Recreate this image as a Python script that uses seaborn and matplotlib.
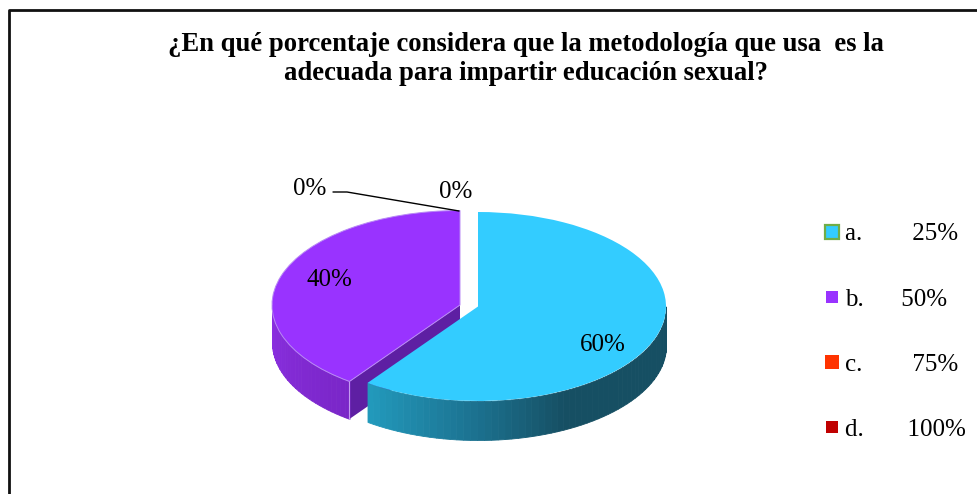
import numpy as np
import seaborn as sns
import matplotlib
matplotlib.use('Agg')
import matplotlib.pyplot as plt
from matplotlib.lines import Line2D

categorias = ['a.        25%', 'b.      50%', 'c.        75%', 'd.       100%']
valores = [60, 40, 0, 0]
etiquetas = ['60%', '40%', '0%', '0%']
colores = ['#33CCFF', '#9933FF', '#FF3300', '#C00000']
titulo = '¿En qué porcentaje considera que la metodología que usa  es la\nadecuada para impartir educación sexual?'

sns.set_theme(style='white')
plt.rcParams['font.family'] = ['Liberation Serif', 'DejaVu Serif']

W, H = 978, 494
RX, RY = 188, 94.5        # radios de la elipse en pixeles
CX, CY = 469, 306.5       # centro del pastel
PROF_AZUL = 39 / RY       # profundidad de la pared lateral
PROF_MORADO = 37.5 / RY
SEP = 9 / RX              # separacion horizontal de cada porcion
SUBE = 1.5 / RY           # la porcion morada queda un poco mas arriba

fig = plt.figure(figsize=(W / 100, H / 100), dpi=100, facecolor='white')

# Capa de fondo en pixeles: marco
bg = fig.add_axes([0, 0, 1, 1])
bg.set_xlim(0, W)
bg.set_ylim(H, 0)
bg.axis('off')
bg.plot([8.5, 8.5, W + 5], [H + 5, 10.5, 10.5], color='#111111', lw=2)

# Ejes del pastel: una unidad = RX pixeles en x y RY pixeles en y
xmin, xmax, ymin, ymax = -1.5, 1.5, -1.9, 1.2
ax = fig.add_axes([(CX + xmin * RX) / W, (H - CY + ymin * RY) / H,
                   (xmax - xmin) * RX / W, (ymax - ymin) * RY / H])

# Angulos acumulados en sentido horario desde arriba
fin = np.cumsum(valores) / np.sum(valores) * 360
ini = np.r_[0, fin[:-1]]


def pared(x0, y0, prof, a0, a1, paleta, z):
    # pared exterior de una porcion, por tiras de color
    cortes = np.linspace(a0, a1, len(paleta) + 1)
    for i, c in enumerate(paleta):
        t = np.radians(np.linspace(cortes[i], cortes[i + 1], 5))
        xs = x0 + np.sin(t)
        ys = y0 + np.cos(t)
        ax.fill_between(xs, ys, ys - prof, color=c, lw=0.6, zorder=z)


# Porcion morada: pared del corte y pared exterior
a = np.radians(ini[1])
px, py = -SEP + np.sin(a), SUBE + np.cos(a)
ax.fill([-SEP, px, px, -SEP], [SUBE, py, py - PROF_MORADO, SUBE - PROF_MORADO],
        color='#5E1FA3', lw=0, zorder=1)
pared(-SEP, SUBE, PROF_MORADO, ini[1], 270, sns.blend_palette(['#7A26C8', '#8A2FE0'], 30), 1)
ax.plot([px, px], [py, py - PROF_MORADO], color='#C49BF0', lw=0.8, zorder=1.5)

wedges, _ = ax.pie(valores[:2], colors=colores[:2], startangle=90, counterclock=False,
                   wedgeprops={'linewidth': 0}, normalize=True)
wedges[0].set_center((SEP, 0))
wedges[1].set_center((-SEP, SUBE))
wedges[1].set_edgecolor('#B98AF5')
wedges[1].set_linewidth(0.7)
wedges[1].set_zorder(2)
wedges[0].set_zorder(4)

# Pared exterior de la porcion azul, encima de la morada
azul = sns.blend_palette(['#164F63', '#164F63', '#164F63', '#1C7594', '#2299BB'], 60)
pared(SEP, 0, PROF_AZUL, 90, fin[0], azul, 3)

ax.set_aspect('auto')
ax.set_xlim(xmin, xmax)
ax.set_ylim(ymin, ymax)
ax.axis('off')

# Textos encima de todo
top = fig.add_axes([0, 0, 1, 1])
top.set_xlim(0, W)
top.set_ylim(H, 0)
top.axis('off')
top.patch.set_alpha(0)
top.text(526, 59, titulo, ha='center', va='center', fontsize=19.2, fontweight='bold',
         linespacing=1.24, color='black')
pos_etiquetas = [(603, 345), (329, 280), (456, 192), (310, 189)]
for txt, (x, y) in zip(etiquetas, pos_etiquetas):
    top.text(x, y, txt, ha='center', va='center', fontsize=18, color='black')
top.plot([333, 347, 459], [192, 192, 211], color='black', lw=1)

# Leyenda
tam = [9.6, 8.6, 10, 8.6]
bordes = ['#70AD47', '#9933FF', '#FF3300', '#C00000']
handles = [Line2D([], [], ls='', marker='s', ms=m, mfc=c, mec=b, mew=1.6 if i == 0 else 0)
           for i, (m, c, b) in enumerate(zip(tam, colores, bordes))]
fig.legend(handles, categorias, loc='upper left', bbox_to_anchor=(820 / W, 1 - 223 / H),
           frameon=False, fontsize=18, borderpad=0, borderaxespad=0, handlelength=1.0,
           handletextpad=0.0, labelspacing=1.71, labelcolor='black')

fig.savefig('out.png', dpi=100)
